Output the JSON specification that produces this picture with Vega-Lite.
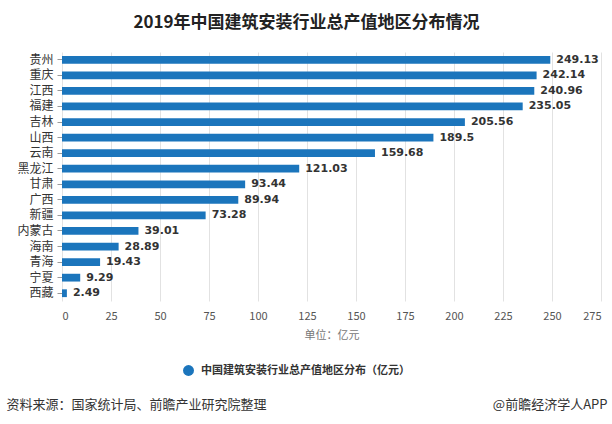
{
  "$schema": "https://vega.github.io/schema/vega-lite/v6.json",
  "autosize": {"type": "none"},
  "width": 539,
  "height": 249,
  "padding": {"left": 62, "top": 52, "right": 11, "bottom": 123},
  "background": "white",
  "config": {"view": {"stroke": null}, "font": "Noto Sans CJK SC"},
  "title": {
    "text": "2019年中国建筑安装行业总产值地区分布情况",
    "anchor": "middle",
    "fontSize": 17,
    "fontWeight": "bold",
    "color": "#222",
    "font": "Noto Sans CJK SC",
    "offset": 20,
    "dx": -25
  },
  "data": {
    "values": [
      {"region": "贵州", "value": 249.13},
      {"region": "重庆", "value": 242.14},
      {"region": "江西", "value": 240.96},
      {"region": "福建", "value": 235.05},
      {"region": "吉林", "value": 205.56},
      {"region": "山西", "value": 189.5},
      {"region": "云南", "value": 159.68},
      {"region": "黑龙江", "value": 121.03},
      {"region": "甘肃", "value": 93.44},
      {"region": "广西", "value": 89.94},
      {"region": "新疆", "value": 73.28},
      {"region": "内蒙古", "value": 39.01},
      {"region": "海南", "value": 28.89},
      {"region": "青海", "value": 19.43},
      {"region": "宁夏", "value": 9.29},
      {"region": "西藏", "value": 2.49}
    ]
  },
  "resolve": {"axis": {"y": "independent"}},
  "layer": [
    {
      "mark": {"type": "bar"},
      "encoding": {
        "y": {
          "field": "region",
          "type": "nominal",
          "sort": null,
          "scale": {"type": "band", "paddingInner": 0.5, "paddingOuter": 0.25},
          "axis": {
            "orient": "left",
            "domain": false,
            "ticks": true,
            "tickSize": 5,
            "tickColor": "#999",
            "labelPadding": 4,
            "labelFontSize": 12,
            "labelColor": "#333",
            "labelFont": "Noto Sans CJK SC",
            "title": "资料来源：国家统计局、前瞻产业研究院整理",
            "titleAngle": 0,
            "titleAlign": "left",
            "titleBaseline": "middle",
            "titleX": -56,
            "titleY": 352,
            "titleFontSize": 13,
            "titleFontWeight": "normal",
            "titleColor": "#333",
            "titleFont": "Noto Sans CJK SC"
          }
        },
        "x": {
          "field": "value",
          "type": "quantitative",
          "scale": {"domain": [0, 275], "nice": false},
          "axis": {
            "values": [0, 25, 50, 75, 100, 125, 150, 175, 200, 225, 250, 275],
            "grid": true,
            "gridColor": "#e2e2e2",
            "domain": false,
            "ticks": false,
            "labelPadding": 9,
            "labelFontSize": 11,
            "labelColor": "#555",
            "labelFont": "Noto Sans CJK SC",
            "title": "单位：亿元",
            "titleFontSize": 11,
            "titleFontWeight": "normal",
            "titleColor": "#777",
            "titlePadding": 8,
            "titleFont": "Noto Sans CJK SC"
          }
        },
        "color": {
          "datum": "中国建筑安装行业总产值地区分布（亿元）",
          "type": "nominal",
          "scale": {"range": ["#1b75bc"]},
          "legend": {
            "orient": "none",
            "legendX": 120,
            "legendY": 312,
            "title": null,
            "symbolType": "circle",
            "symbolSize": 120,
            "labelFontSize": 11,
            "labelFontWeight": "bold",
            "labelColor": "#333",
            "labelFont": "Noto Sans CJK SC",
            "labelOffset": 6,
            "labelLimit": 0
          }
        }
      }
    },
    {
      "mark": {"type": "text", "align": "left", "baseline": "middle", "dx": 6, "font": "DejaVu Sans", "fontSize": 11, "fontWeight": "bold", "color": "#333"},
      "encoding": {
        "y": {
          "field": "region",
          "type": "nominal",
          "sort": null,
          "axis": {
            "orient": "right",
            "domain": false,
            "ticks": false,
            "labels": false,
            "grid": false,
            "title": "@前瞻经济学人APP",
            "titleAngle": 0,
            "titleAlign": "right",
            "titleBaseline": "middle",
            "titleX": 6,
            "titleY": 352,
            "titleFontSize": 13,
            "titleFontWeight": "normal",
            "titleColor": "#333",
            "titleFont": "Noto Sans CJK SC"
          }
        },
        "x": {"field": "value", "type": "quantitative"},
        "text": {"field": "value", "type": "nominal"}
      }
    }
  ]
}
